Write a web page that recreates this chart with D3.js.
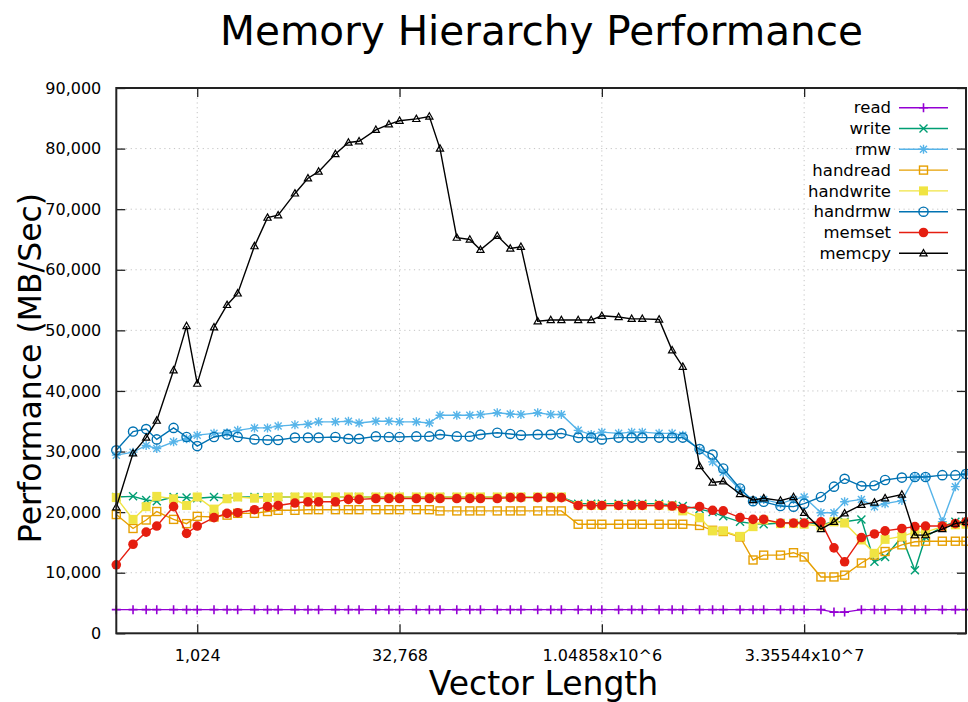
<!DOCTYPE html>
<html>
<head>
<meta charset="utf-8">
<script src="https://cdn.jsdelivr.net/npm/d3@7"></script>
<style>
    body { margin: 0; background: #fff; }
    text { font-family: "DejaVu Sans", sans-serif; fill: #000; }
</style>
</head>
<body>
<div id="id_plot_memory"></div>
<script>
// vector lengths (x), 3 points per octave from 2^8 to 2^29
var vectorLengths = [256, 341, 427, 512, 683, 853, 1024, 1365, 1707, 2048, 2731, 3413,
    4096, 5461, 6827, 8192, 10923, 13653, 16384, 21845, 27307, 32768, 43691, 54613,
    65536, 87381, 109227, 131072, 174763, 218453, 262144, 349525, 436907, 524288,
    699051, 873813, 1048576, 1398101, 1747627, 2097152, 2796203, 3495253, 4194304,
    5592405, 6990507, 8388608, 11184811, 13981013, 16777216, 22369621, 27962027,
    33554432, 44739243, 55924053, 67108864, 89478485, 111848107, 134217728,
    178956971, 223696213, 268435456, 357913941, 447392427, 536870912];

var seriesNames = ["read", "write", "rmw", "handread", "handwrite", "handrmw", "memset", "memcpy"];

var readVals = [3900, 3900, 3900, 3900, 3900, 3900, 3900, 3900, 3900, 3900, 3900, 3900,
    3900, 3900, 3900, 3900, 3900, 3900, 3900, 3900, 3900, 3900, 3900, 3900,
    3900, 3900, 3900, 3900, 3900, 3900, 3900, 3900, 3900, 3900, 3900, 3900,
    3900, 3900, 3900, 3900, 3900, 3900, 3900, 3900, 3900, 3900, 3900, 3900,
    3900, 3900, 3900, 3900, 3900, 3500, 3500, 3900, 3900, 3900, 3900, 3900,
    3900, 3900, 3900, 3900];

var writeVals = [22500, 22600, 22000, 21800, 22500, 22400, 22300, 22500, 22300, 22500, 22500, 22500,
    22500, 22500, 22500, 22500, 22500, 22500, 22500, 22500, 22500, 22500, 22500, 22500,
    22500, 22500, 22500, 22500, 22500, 22500, 22500, 22500, 22500, 22500, 21400, 21400,
    21400, 21400, 21400, 21400, 21400, 21200, 21000, 20500, 20000, 19300, 18400, 18100,
    18000, 18200, 18200, 18400, 17900, 18400, 18400, 18800, 11800, 12600, 15900, 10400,
    15900, 17600, 18400, 18400];

var rmwVals = [29400, 29900, 31000, 30500, 31600, 32100, 32700, 33000, 33100, 33500, 33900, 33900,
    34200, 34400, 34500, 34900, 34900, 35000, 34700, 35000, 35000, 34900, 34900, 34700,
    36000, 36000, 36000, 36100, 36400, 36200, 36100, 36400, 36100, 36100, 33500, 32800,
    33200, 33000, 33200, 33200, 33000, 33000, 32700, 30200, 28300, 26600, 23700, 21900,
    22100, 21400, 22100, 22500, 19900, 19900, 21700, 22100, 20900, 21400, 21900, 25800,
    25800, 18400, 24200, 26400];

var handreadVals = [19600, 17300, 18700, 20100, 18800, 18100, 19300, 19200, 19500, 19800, 19800, 20100,
    20300, 20300, 20400, 20400, 20400, 20400, 20400, 20400, 20400, 20400, 20400, 20400,
    20200, 20200, 20200, 20200, 20200, 20200, 20200, 20200, 20200, 20200, 18000, 18000,
    18000, 18000, 18000, 18000, 18000, 18000, 18000, 17800, 17000, 16800, 15900, 12100,
    12900, 12900, 13300, 12600, 9300, 9300, 9600, 11600, 12900, 13500, 14600, 15100,
    15200, 15200, 15200, 15200];

var handwriteVals = [22400, 18800, 20900, 22600, 22200, 21100, 22500, 20500, 22200, 22500, 22300, 22400,
    22500, 22500, 22500, 22500, 22500, 22500, 22500, 22500, 22500, 22500, 22500, 22500,
    22500, 22500, 22500, 22500, 22500, 22500, 22500, 22500, 22500, 22500, 21100, 21100,
    21100, 21100, 21100, 21100, 21100, 21000, 20200, 19100, 16900, 16900, 16000, 17600,
    18700, 18100, 18100, 18000, 17700, 18400, 18200, 15400, 13200, 15500, 16000, 16700,
    16700, 17600, 17900, 18000];

var handrmwVals = [30200, 33300, 33700, 32000, 33900, 32400, 30900, 32400, 32800, 32400, 32000, 31900,
    31900, 32300, 32300, 32300, 32400, 32100, 32100, 32500, 32400, 32400, 32500, 32500,
    32800, 32500, 32500, 32800, 33100, 32900, 32700, 32800, 32800, 33000, 32300, 32300,
    32000, 32300, 32300, 32300, 32300, 32300, 32300, 30400, 29500, 27200, 23900, 21800,
    21700, 21000, 20900, 21400, 22500, 24200, 25500, 24300, 24400, 25300, 25700, 25800,
    25800, 26100, 26100, 26300];

var memsetVals = [11300, 14700, 16700, 17700, 20900, 16500, 17700, 19100, 19800, 19900, 20400, 20900,
    21100, 21500, 21700, 21700, 21700, 22100, 22100, 22250, 22250, 22250, 22250, 22250,
    22250, 22250, 22250, 22250, 22250, 22400, 22400, 22400, 22400, 22400, 21100, 21100,
    21100, 21100, 21100, 21100, 21100, 21000, 20600, 20900, 20300, 20200, 19100, 18800,
    18800, 18200, 18200, 18200, 18400, 14100, 11800, 15800, 16400, 16900, 17300, 17600,
    17700, 17700, 18100, 18400];

var memcpyVals = [20800, 29700, 32300, 35100, 43400, 50700, 41200, 50500, 54200, 56100, 63900, 68600,
    69000, 72600, 75100, 76200, 79100, 81000, 81200, 83100, 84000, 84600, 84900, 85300,
    80000, 65300, 65000, 63300, 65600, 63500, 63800, 51500, 51700, 51700, 51700, 51700,
    52400, 52200, 51900, 51900, 51800, 46700, 44000, 27600, 24900, 25100, 23000, 22000,
    22300, 21900, 22500, 19900, 17200, 18400, 19800, 21200, 21600, 22300, 22900, 16200,
    16200, 17200, 18100, 18400];

var xTickValues = [1024, 32768, 1048576, 33554432];
var xTickLabels = ["1,024", "32,768", "1.04858x10^6", "3.35544x10^7"];
var yTickValues = [0, 10000, 20000, 30000, 40000, 50000, 60000, 70000, 80000, 90000];

// gnuplot default line colours and point types
var colors = ["#9400d3", "#009e73", "#56b4e9", "#e69f00", "#f0e442", "#0072b2", "#e51e10", "#000000"];
var pointTypes = ["plus", "cross", "star", "square", "squareFill", "circle", "circleFill", "triangle"];

function buildSeries() {
    var allVals = [readVals, writeVals, rmwVals, handreadVals, handwriteVals, handrmwVals, memsetVals, memcpyVals];
    return seriesNames.map(function (name, i) {
        return {
            name: name,
            color: colors[i],
            point: pointTypes[i],
            values: vectorLengths.map(function (len, j) {
                return {x: len, y: allVals[i][j]};
            })
        };
    });
}

function drawMarker(sel, type, color) {
    if (type === "plus") {
        sel.append("path").attr("d", "M-4.5,0H4.5M0,-4.5V4.5")
            .attr("stroke", color).attr("stroke-width", 1.6).attr("fill", "none");
    } else if (type === "cross") {
        sel.append("path").attr("d", "M-4,-4L4,4M-4,4L4,-4")
            .attr("stroke", color).attr("stroke-width", 1.4).attr("fill", "none");
    } else if (type === "star") {
        sel.append("path").attr("d", "M-4.5,0H4.5M0,-4.5V4.5M-3.5,-3.5L3.5,3.5M-3.5,3.5L3.5,-3.5")
            .attr("stroke", color).attr("stroke-width", 1.4).attr("fill", "none");
    } else if (type === "square") {
        sel.append("rect").attr("x", -4).attr("y", -4).attr("width", 8).attr("height", 8)
            .attr("stroke", color).attr("stroke-width", 1.4).attr("fill", "none");
    } else if (type === "squareFill") {
        sel.append("rect").attr("x", -4.5).attr("y", -4.5).attr("width", 9).attr("height", 9)
            .attr("fill", color);
    } else if (type === "circle") {
        sel.append("circle").attr("r", 4.6)
            .attr("stroke", color).attr("stroke-width", 1.4).attr("fill", "none");
    } else if (type === "circleFill") {
        sel.append("circle").attr("r", 4.8).attr("fill", color);
    } else if (type === "triangle") {
        sel.append("path").attr("d", "M0,-3.8L3.6,2.6H-3.6Z")
            .attr("stroke", color).attr("stroke-width", 1.2).attr("fill", "none");
    }
}

function drawChart(series) {
    var svgWidth = 968, svgHeight = 702;
    var left = 116.3, right = 966, top = 88, bottom = 633.3;

    var svg = d3.select("#id_plot_memory").append("svg")
        .attr("width", svgWidth)
        .attr("height", svgHeight);

    var x = d3.scaleLog().base(2).domain([256, 536870912]).range([left, right]);
    var y = d3.scaleLinear().domain([0, 90000]).range([bottom, top]);

    // grid (dotted, light)
    var grid = svg.append("g").attr("class", "grid");
    grid.selectAll("line.gy")
        .data(yTickValues.slice(1, -1))
        .enter().append("line")
        .attr("x1", left).attr("x2", right)
        .attr("y1", function (d) { return y(d); })
        .attr("y2", function (d) { return y(d); })
        .attr("stroke", "#c4c4c4").attr("stroke-width", 1).attr("stroke-dasharray", "1.2,3.6");
    grid.selectAll("line.gx")
        .data(xTickValues)
        .enter().append("line")
        .attr("y1", top).attr("y2", bottom)
        .attr("x1", function (d) { return x(d); })
        .attr("x2", function (d) { return x(d); })
        .attr("stroke", "#c4c4c4").attr("stroke-width", 1).attr("stroke-dasharray", "1.2,3.6");

    // axes: ticks drawn inward, mirrored on top and right
    var axisBottom = d3.axisBottom(x).tickValues(xTickValues).tickSize(-9).tickPadding(16)
        .tickFormat(function (d, i) { return xTickLabels[i]; });
    var axisTop = d3.axisTop(x).tickValues(xTickValues).tickSize(-9).tickFormat("");
    var axisLeft = d3.axisLeft(y).tickValues(yTickValues).tickSize(-9).tickPadding(15)
        .tickFormat(d3.format(","));
    var axisRight = d3.axisRight(y).tickValues(yTickValues).tickSize(-9).tickFormat("");

    var gb = svg.append("g").attr("transform", "translate(0," + bottom + ")").call(axisBottom);
    var gt = svg.append("g").attr("transform", "translate(0," + top + ")").call(axisTop);
    var gl = svg.append("g").attr("transform", "translate(" + left + ",0)").call(axisLeft);
    var gr = svg.append("g").attr("transform", "translate(" + right + ",0)").call(axisRight);

    [gb, gt, gl, gr].forEach(function (g) {
        g.selectAll(".domain").remove();
        g.selectAll(".tick line").attr("stroke", "#222").attr("stroke-width", 1.3);
        g.selectAll(".tick text").style("font-size", "16px")
            .style("font-family", "'DejaVu Sans', sans-serif").attr("fill", "#111");
    });

    // series
    var line = d3.line()
        .x(function (d) { return x(d.x); })
        .y(function (d) { return y(d.y); });

    var groups = svg.selectAll("g.series")
        .data(series)
        .enter()
        .append("g")
        .attr("class", "series");

    groups.append("path")
        .attr("d", function (d) { return line(d.values); })
        .attr("fill", "none")
        .attr("stroke", function (d) { return d.color; })
        .attr("stroke-width", 1.4);

    groups.each(function (s) {
        d3.select(this).selectAll("g.pt")
            .data(s.values)
            .enter()
            .append("g")
            .attr("class", "pt")
            .attr("transform", function (d) { return "translate(" + x(d.x) + "," + y(d.y) + ")"; })
            .each(function () { drawMarker(d3.select(this), s.point, s.color); });
    });

    // frame
    svg.append("rect")
        .attr("x", left).attr("y", top)
        .attr("width", right - left).attr("height", bottom - top)
        .attr("fill", "none").attr("stroke", "#222").attr("stroke-width", 2);

    // legend
    var legend = svg.append("g").attr("class", "legend");
    var rows = legend.selectAll("g")
        .data(series)
        .enter()
        .append("g")
        .attr("transform", function (d, i) { return "translate(0," + (107.7 + i * 20.8) + ")"; });
    rows.append("text")
        .attr("x", 891).attr("dy", "0.35em")
        .attr("text-anchor", "end")
        .style("font-size", "16.5px")
        .text(function (d) { return d.name; });
    rows.append("line")
        .attr("x1", 899).attr("x2", 948)
        .attr("stroke", function (d) { return d.color; })
        .attr("stroke-width", 1.4);
    rows.each(function (s) {
        var m = d3.select(this).append("g").attr("transform", "translate(923.5,0)");
        drawMarker(m, s.point, s.color);
    });

    // titles
    svg.append("text")
        .attr("x", 541.5).attr("y", 45)
        .attr("text-anchor", "middle")
        .style("font-size", "40.5px")
        .text("Memory Hierarchy Performance");
    svg.append("text")
        .attr("transform", "translate(41,368) rotate(-90)")
        .attr("text-anchor", "middle")
        .style("font-size", "31.5px")
        .text("Performance (MB/Sec)");
    svg.append("text")
        .attr("x", 543.5).attr("y", 695)
        .attr("text-anchor", "middle")
        .style("font-size", "33px")
        .text("Vector Length");
}

drawChart(buildSeries());
</script>
</body>
</html>
